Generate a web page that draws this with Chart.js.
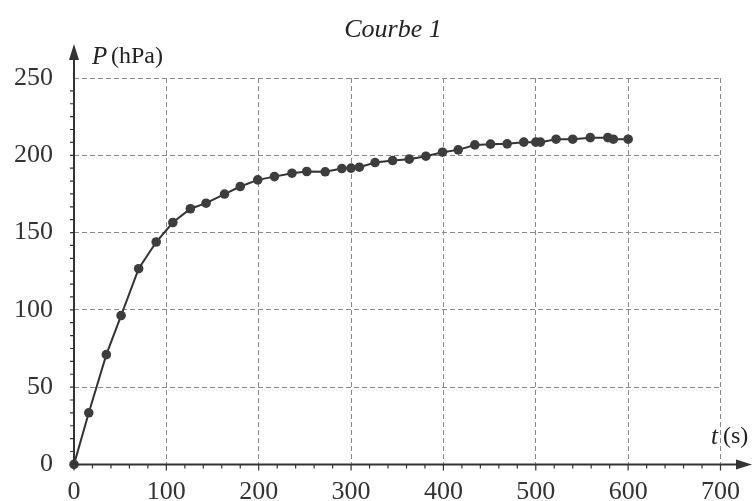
<!DOCTYPE html>
<html>
<head>
<meta charset="utf-8">
<script src="https://cdn.jsdelivr.net/npm/chart.js@4.4.0/dist/chart.umd.min.js"></script>
<style>
  html, body { margin: 0; padding: 0; background: #fff; }
  #wrap { width: 752px; height: 501px; }
</style>
</head>
<body>
<div id="wrap"><canvas id="courbe" width="752" height="501"></canvas></div>
<script>
// temps (s) et pression (hPa)
const tValues = [0, 16, 35, 51, 70, 89, 107, 126, 143, 163, 180, 199, 217, 236, 252, 272, 290, 300, 309,
    326, 345, 363, 381, 399, 416, 434, 451, 469, 487, 500, 505, 522, 540, 559, 578, 584, 600];
const pValues = [0, 33.4, 71, 96.3, 126.6, 143.9, 156.5, 165.4, 169, 174.9, 179.8, 184.1, 186.2, 188.4, 189.5, 189.3, 191.4, 191.7, 192.3,
    195.3, 196.6, 197.5, 199.4, 202, 203.5, 206.7, 207.2, 207.4, 208.5, 208.5, 208.5, 210.4, 210.4, 211.4, 211.4, 210.4, 210.4];
const xTicks = [0, 100, 200, 300, 400, 500, 600, 700];
const yTicks = [0, 50, 100, 150, 200, 250];
const chartTitle = 'Courbe 1';

const serif = '"Liberation Serif", "DejaVu Serif", serif';
const ink = '#333';

// axes fléchés, graduations secondaires, noms des axes et titre
const decorPlugin = {
    id: 'decor',
    afterDraw(chart) {
        const ctx = chart.ctx;
        const xs = chart.scales.x, ys = chart.scales.y;
        const x0 = xs.getPixelForValue(0), y0 = ys.getPixelForValue(0);
        ctx.save();
        ctx.strokeStyle = ink;
        ctx.fillStyle = ink;
        ctx.lineWidth = 2;
        ctx.beginPath();
        ctx.moveTo(x0, y0);
        ctx.lineTo(740, y0);
        ctx.moveTo(x0, y0);
        ctx.lineTo(x0, 58);
        ctx.stroke();
        // flèches
        ctx.beginPath();
        ctx.moveTo(752, y0); ctx.lineTo(736, y0 - 5); ctx.lineTo(736, y0 + 5); ctx.closePath();
        ctx.moveTo(x0, 44); ctx.lineTo(x0 - 5, 60); ctx.lineTo(x0 + 5, 60); ctx.closePath();
        ctx.fill();
        // graduations
        ctx.lineWidth = 1.2;
        ctx.beginPath();
        for (let t = 0; t <= 700; t += 20) {
            const px = xs.getPixelForValue(t);
            ctx.moveTo(px, y0);
            ctx.lineTo(px, y0 + (t % 100 === 0 ? 6 : 4));
        }
        for (let p = 0; p <= 250; p += 50 / 6) {
            const py = ys.getPixelForValue(p);
            ctx.moveTo(x0, py);
            ctx.lineTo(x0 - 4, py);
        }
        ctx.stroke();
        // noms des axes
        ctx.fillStyle = '#222';
        ctx.textBaseline = 'middle';
        ctx.font = 'italic 25px ' + serif;
        ctx.fillText('P', 92, 57);
        ctx.font = '24px ' + serif;
        ctx.fillText('(hPa)', 111, 57);
        ctx.font = 'italic 25px ' + serif;
        ctx.fillText('t', 711, 437);
        ctx.font = '24px ' + serif;
        ctx.fillText('(s)', 723, 437);
        // titre
        ctx.font = 'italic 26px ' + serif;
        ctx.textAlign = 'center';
        ctx.fillText(chartTitle, 393, 30);
        ctx.restore();
    }
};

new Chart(document.getElementById('courbe'), {
    type: 'scatter',
    data: {
        datasets: [{
            data: tValues.map((t, i) => ({ x: t, y: pValues[i] })),
            showLine: true,
            borderColor: ink,
            borderWidth: 2,
            backgroundColor: ink,
            pointRadius: 4.8,
            pointBorderWidth: 0,
            pointBackgroundColor: '#3d3d3d',
            tension: 0,
            clip: false
        }]
    },
    options: {
        responsive: false,
        animation: false,
        devicePixelRatio: 1,
        layout: { padding: { top: 78, right: 28, left: 0, bottom: 0 } },
        plugins: { legend: { display: false }, tooltip: { enabled: false } },
        scales: {
            x: {
                type: 'linear', min: 0, max: 700,
                afterBuildTicks: s => { s.ticks = xTicks.map(v => ({ value: v })); },
                afterFit: s => { s.height = 36; },
                grid: { color: '#8a8a8a', lineWidth: 1, drawTicks: false },
                border: { display: false, dash: [5, 3] },
                ticks: { color: '#333', padding: 12, maxRotation: 0, font: { family: serif, size: 26 } }
            },
            y: {
                type: 'linear', min: 0, max: 250,
                afterBuildTicks: s => { s.ticks = yTicks.map(v => ({ value: v })); },
                afterFit: s => { s.width = 74; },
                grid: { color: '#8a8a8a', lineWidth: 1, drawTicks: false },
                border: { display: false, dash: [5, 3] },
                ticks: { color: '#333', padding: 21, font: { family: serif, size: 26 } }
            }
        }
    },
    plugins: [decorPlugin]
});
</script>
</body>
</html>
